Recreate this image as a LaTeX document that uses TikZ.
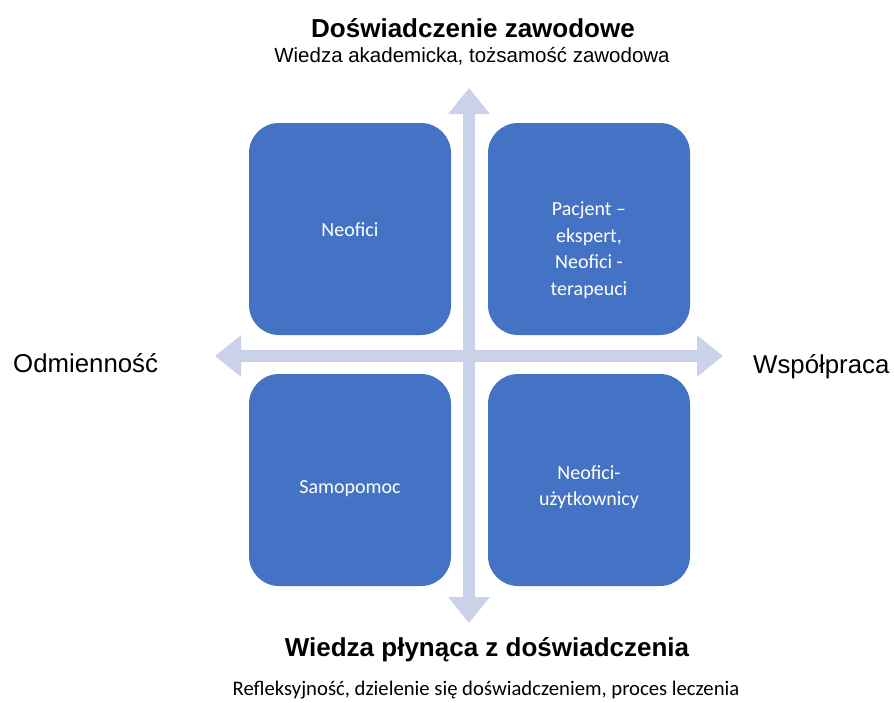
\documentclass[tikz,border=0pt]{standalone}
\usepackage{fontspec}
\setmainfont{Liberation Sans}
\newfontfamily\calibri{Carlito}
\usetikzlibrary{arrows.meta}

\definecolor{boxblue}{RGB}{68,114,196}
\definecolor{axisblue}{RGB}{202,210,234}

\begin{document}
\begin{tikzpicture}[
    x=1pt, y=-1pt,
    box/.style={fill=boxblue, rounded corners=30pt, minimum width=202pt, minimum height=212pt, inner sep=0pt},
    boxtxt/.style={text=white, align=center, font=\calibri\fontsize{20}{26.5}\selectfont},
    axis/.style={line width=12pt, axisblue, {Triangle[width=40pt,length=26pt]}-{Triangle[width=40pt,length=26pt]}},
    head/.style={font=\bfseries\fontsize{26}{30}\selectfont},
    sub/.style={font=\fontsize{20.5}{24}\selectfont},
    side/.style={font=\fontsize{25.8}{30}\selectfont},
  ]
  \useasboundingbox (0,0) rectangle (894,702);

  % --- Axes ---
  \coordinate (top) at (469,88);
  \coordinate (bottom) at (469,623);
  \coordinate (left) at (215,356);
  \coordinate (right) at (723,356);
  \draw[axis] (top) -- (bottom);
  \draw[axis] (left) -- (right);

  % --- Quadrants ---
  \node[box] (tl) at (350,229) {};
  \node[box] (tr) at (589,229) {};
  \node[box] (bl) at (350,480) {};
  \node[box] (br) at (589,480) {};

  \node[boxtxt] (tlTxt) at (350,230) {Neofici};
  \node[boxtxt] (trTxt) at (589,250) {Pacjent –\\ekspert,\\Neofici -\\terapeuci};
  \node[boxtxt] (blTxt) at (350,489) {Samopomoc};
  \node[boxtxt] (brTxt) at (589,487) {Neofici-\\użytkownicy};

  % --- Axis labels ---
  \node[head, anchor=base] (topLbl) at (473,37) {Doświadczenie zawodowe};
  \node[sub, anchor=base] (topSub) at (472,62) {Wiedza akademicka, tożsamość zawodowa};
  \node[head, anchor=base] (botLbl) at (487,656) {Wiedza płynąca z doświadczenia};
  \node[anchor=base, font=\calibri\fontsize{20.7}{24}\selectfont] (botSub) at (486,695) {Refleksyjność, dzielenie się doświadczeniem, proces leczenia};
  \node[side, anchor=base west, inner sep=0pt] (leftLbl) at (13,372) {Odmienność};
  \node[side, anchor=base west, inner sep=0pt] (rightLbl) at (753,373) {Współpraca};

\end{tikzpicture}
\end{document}
